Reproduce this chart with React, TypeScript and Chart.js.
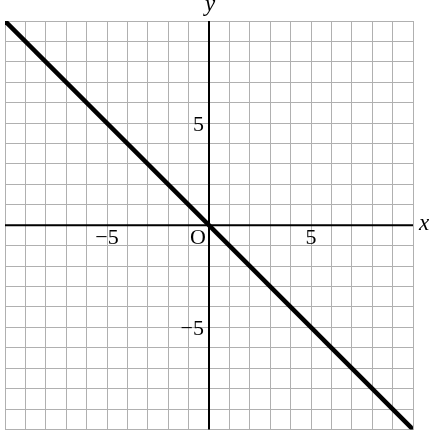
import React, { useEffect, useRef } from "react";
import { Chart, registerables } from "chart.js";

Chart.register(...registerables);

const xRange = [-10, 10];
const yRange = [-10, 10];
const lineXs = [-10, 10];
const lineYs = [10, -10];
const xTickLabels = [-5, 5];
const yTickLabels = [5, -5];
const originLabel = "O";
const xAxisTitle = "x";
const yAxisTitle = "y";

const FONT = '"Liberation Serif", "DejaVu Serif", serif';

const fmt = (v: number) => (v < 0 ? "\u2212" + Math.abs(v) : String(v));

const annotate = {
  id: "annotate",
  beforeDatasetsDraw(chart: any) {
    const { ctx, chartArea, scales } = chart;
    const x0 = scales.x.getPixelForValue(0);
    const y0 = scales.y.getPixelForValue(0);
    ctx.save();
    ctx.strokeStyle = "#000";
    ctx.lineWidth = 2;
    ctx.beginPath();
    ctx.moveTo(chartArea.left, y0);
    ctx.lineTo(chartArea.right, y0);
    ctx.moveTo(x0, chartArea.top);
    ctx.lineTo(x0, chartArea.bottom);
    ctx.stroke();
    ctx.restore();
  },
  afterDraw(chart: any) {
    const { ctx, chartArea, scales } = chart;
    const x0 = scales.x.getPixelForValue(0);
    const y0 = scales.y.getPixelForValue(0);
    ctx.save();
    ctx.fillStyle = "#000";
    ctx.font = `22px ${FONT}`;
    ctx.textBaseline = "alphabetic";
    ctx.textAlign = "center";
    xTickLabels.forEach((v) => {
      ctx.fillText(fmt(v), scales.x.getPixelForValue(v), y0 + 19);
    });
    ctx.textAlign = "right";
    yTickLabels.forEach((v) => {
      ctx.fillText(fmt(v), x0 - 5, scales.y.getPixelForValue(v) + 8);
    });
    ctx.fillText(originLabel, x0 - 3, y0 + 19);
    ctx.font = `italic 23px ${FONT}`;
    ctx.textAlign = "center";
    ctx.fillText(yAxisTitle, x0 + 1, chartArea.top - 10);
    ctx.textAlign = "left";
    ctx.fillText(xAxisTitle, chartArea.right + 6, y0 + 5);
    ctx.restore();
  },
};

export default function App() {
  const ref = useRef<HTMLCanvasElement>(null);
  useEffect(() => {
    if (!ref.current) return;
    const chart = new Chart(ref.current, {
      type: "scatter",
      data: {
        datasets: [
          {
            data: lineXs.map((x, i) => ({ x, y: lineYs[i] })),
            showLine: true,
            borderColor: "#000",
            borderWidth: 4.5,
            pointRadius: 0,
            borderCapStyle: "butt",
          },
        ],
      },
      options: {
        animation: false,
        responsive: false,
        events: [],
        layout: { padding: { left: 5, top: 21, right: 21, bottom: 1.5 } },
        plugins: { legend: { display: false }, tooltip: { enabled: false } },
        scales: {
          x: {
            type: "linear",
            min: xRange[0],
            max: xRange[1],
            ticks: { display: false, stepSize: 1 },
            grid: { color: "#b0b0b0", lineWidth: 1, drawTicks: false },
            border: { display: false },
          },
          y: {
            type: "linear",
            min: yRange[0],
            max: yRange[1],
            ticks: { display: false, stepSize: 1 },
            grid: { color: "#b0b0b0", lineWidth: 1, drawTicks: false },
            border: { display: false },
          },
        },
      },
      plugins: [annotate],
    });
    return () => chart.destroy();
  }, []);
  return (
    <div style={{ position: "absolute", left: 0, top: 0, width: 434, height: 431, background: "#fff" }}>
      <canvas ref={ref} width={434} height={431} style={{ display: "block" }} />
    </div>
  );
}
